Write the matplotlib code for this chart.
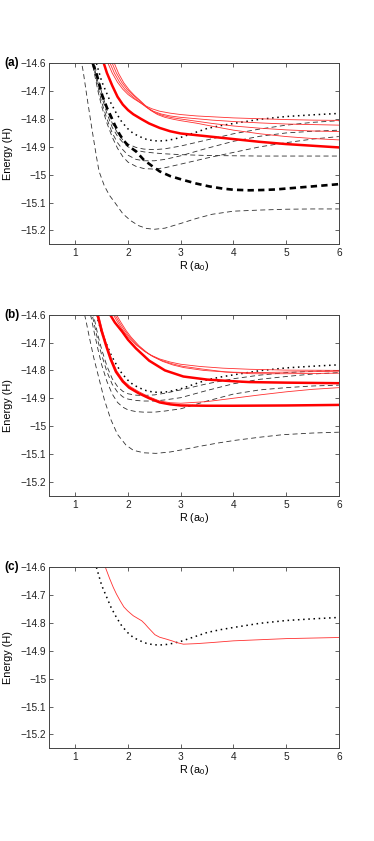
import matplotlib
matplotlib.use("Agg")
import matplotlib.pyplot as plt

plt.rcParams["font.family"] = ["Liberation Sans", "DejaVu Sans"]
plt.rcParams["mathtext.fontset"] = "custom"
plt.rcParams["mathtext.rm"] = "Liberation Sans"

# reference curve (dotted), same in all three panels
R_DOT = [1.40, 1.50, 1.59, 1.68, 1.78, 1.88, 1.99, 2.10, 2.23, 2.35, 2.48, 2.60, 2.73, 2.85, 3.00,
         3.25, 3.50, 3.75, 4.00, 4.50, 5.00, 5.50, 6.00]
E_DOT = [-14.600, -14.665, -14.705, -14.745, -14.780, -14.810, -14.834, -14.852, -14.864, -14.873,
         -14.878, -14.879, -14.877, -14.873, -14.866, -14.850, -14.834, -14.824, -14.816, -14.801,
         -14.791, -14.785, -14.780]

# ---- panel (a) ----
R_A_LOW = [1.10, 1.15, 1.22, 1.31, 1.40, 1.45, 1.55, 1.65, 1.75, 1.90, 2.05, 2.20, 2.35, 2.50,
           2.70, 3.00, 3.30, 3.60, 4.00, 4.50, 5.00, 5.50, 6.00]
E_A_LOW = [-14.58, -14.63, -14.72, -14.83, -14.935, -14.988, -15.04, -15.075, -15.10, -15.14,
           -15.165, -15.183, -15.193, -15.196, -15.192, -15.175, -15.157, -15.142, -15.131,
           -15.127, -15.124, -15.123, -15.123]

R_A_THICK = [1.33, 1.41, 1.51, 1.60, 1.67, 1.75, 1.84, 1.92, 2.00, 2.16, 2.30, 2.45, 2.60, 2.80,
             3.03, 3.30, 3.54, 3.80, 4.00, 4.30, 4.55, 4.80, 5.05, 5.50, 6.00]
E_A_THICK = [-14.600, -14.643, -14.715, -14.760, -14.788, -14.822, -14.855, -14.878, -14.895,
             -14.918, -14.947, -14.968, -14.988, -15.005, -15.018, -15.032, -15.042, -15.050,
             -15.054, -15.056, -15.055, -15.053, -15.049, -15.042, -15.034]

R_A_DASH = [1.30, 1.36, 1.43, 1.50, 1.60, 1.70, 1.80, 1.90, 2.00, 2.15, 2.30, 2.50, 2.70, 3.00,
            3.50, 4.00, 4.50, 5.00, 5.50, 6.00]
E_A_DASH1 = [-14.55, -14.60, -14.655, -14.705, -14.765, -14.815, -14.85, -14.875, -14.89, -14.902,
             -14.908, -14.91, -14.907, -14.897, -14.875, -14.853, -14.836, -14.822, -14.812, -14.806]
E_A_DASH2 = [-14.56, -14.615, -14.67, -14.72, -14.78, -14.83, -14.862, -14.884, -14.90, -14.912,
             -14.918, -14.922, -14.925, -14.928, -14.931, -14.932, -14.933, -14.933, -14.933, -14.933]
E_A_DASH3 = [-14.57, -14.625, -14.685, -14.74, -14.80, -14.85, -14.885, -14.91, -14.93, -14.945,
             -14.95, -14.95, -14.945, -14.932, -14.905, -14.88, -14.862, -14.85, -14.844, -14.84]
E_A_DASH4 = [-14.58, -14.635, -14.70, -14.755, -14.815, -14.865, -14.905, -14.935, -14.955, -14.97,
             -14.978, -14.98, -14.975, -14.962, -14.94, -14.92, -14.90, -14.885, -14.872, -14.863]

R_A_RED = [1.54, 1.60, 1.70, 1.80, 1.90, 2.00, 2.10, 2.25, 2.40, 2.60, 2.80, 3.00, 3.50, 4.00,
           4.50, 5.00, 5.50, 6.00]
E_A_RED = [-14.600, -14.635, -14.680, -14.720, -14.748, -14.768, -14.783, -14.800, -14.816,
           -14.832, -14.844, -14.852, -14.862, -14.872, -14.882, -14.890, -14.896, -14.902]

R_A_THIN1 = [1.62, 1.70, 1.80, 1.90, 2.00, 2.10, 2.20, 2.30, 2.45, 2.60, 2.80, 3.00, 3.30, 3.60,
             4.00, 4.50, 5.00, 5.50, 6.00]
E_A_THIN1 = [-14.600, -14.635, -14.668, -14.693, -14.712, -14.726, -14.738, -14.750, -14.763,
             -14.772, -14.779, -14.784, -14.789, -14.792, -14.796, -14.799, -14.802, -14.804, -14.805]
R_A_THIN2 = [1.66, 1.74, 1.84, 1.94, 2.04, 2.14, 2.24, 2.34, 2.48, 2.63, 2.80, 3.00, 3.30, 3.60,
             4.00, 4.50, 5.00, 5.50, 6.00]
E_A_THIN2 = [-14.600, -14.635, -14.668, -14.693, -14.712, -14.728, -14.742, -14.757, -14.772,
             -14.782, -14.789, -14.794, -14.799, -14.804, -14.809, -14.814, -14.818, -14.820, -14.822]
R_A_THIN3 = [1.70, 1.78, 1.88, 1.98, 2.08, 2.18, 2.28, 2.38, 2.52, 2.67, 2.83, 3.00, 3.30, 3.60,
             4.00, 4.50, 5.00, 5.50, 6.00]
E_A_THIN3 = [-14.600, -14.635, -14.668, -14.693, -14.712, -14.728, -14.745, -14.762, -14.778,
             -14.788, -14.795, -14.800, -14.808, -14.816, -14.825, -14.833, -14.839, -14.843, -14.845]
R_A_THIN4 = [1.74, 1.82, 1.92, 2.02, 2.12, 2.22, 2.32, 2.42, 2.56, 2.70, 2.86, 3.00, 3.30, 3.60,
             4.00, 4.50, 5.00, 5.50, 6.00]
E_A_THIN4 = [-14.600, -14.636, -14.670, -14.695, -14.715, -14.732, -14.750, -14.768, -14.784,
             -14.794, -14.801, -14.806, -14.815, -14.826, -14.840, -14.853, -14.863, -14.870, -14.875]

# ---- panel (b) ----
R_B_LOW = [1.14, 1.20, 1.27, 1.35, 1.45, 1.55, 1.67, 1.80, 1.96, 2.10, 2.30, 2.53, 2.80, 3.00,
           3.35, 3.70, 4.04, 4.50, 4.93, 5.50, 6.00]
E_B_LOW = [-14.57, -14.62, -14.685, -14.755, -14.83, -14.905, -14.975, -15.03, -15.068, -15.087,
           -15.096, -15.098, -15.093, -15.086, -15.073, -15.061, -15.051, -15.04, -15.031, -15.025,
           -15.022]

R_B_DASH = [1.25, 1.30, 1.36, 1.43, 1.50, 1.60, 1.70, 1.80, 1.90, 2.00, 2.15, 2.30, 2.50, 2.70,
            3.00, 3.50, 4.00, 4.50, 5.00, 5.50, 6.00]
E_B_DASH1 = [-14.53, -14.565, -14.615, -14.675, -14.725, -14.785, -14.83, -14.858, -14.875, -14.884,
             -14.889, -14.89, -14.888, -14.882, -14.87, -14.848, -14.83, -14.817, -14.808, -14.803,
             -14.80]
E_B_DASH2 = [-14.55, -14.585, -14.635, -14.695, -14.745, -14.805, -14.85, -14.878, -14.895, -14.903,
             -14.908, -14.91, -14.91, -14.906, -14.898, -14.872, -14.848, -14.832, -14.822, -14.813,
             -14.808]
E_B_DASH3 = [-14.57, -14.61, -14.665, -14.725, -14.78, -14.84, -14.885, -14.915, -14.932, -14.942,
             -14.948, -14.95, -14.95, -14.946, -14.938, -14.91, -14.885, -14.87, -14.862, -14.856,
             -14.853]

R_B_RED1 = [1.42, 1.50, 1.58, 1.67, 1.77, 1.90, 2.02, 2.20, 2.40, 2.60, 2.80, 3.00, 3.50, 4.00,
            5.00, 6.00]
E_B_RED1 = [-14.600, -14.660, -14.709, -14.760, -14.805, -14.840, -14.862, -14.882, -14.900,
            -14.915, -14.922, -14.926, -14.927, -14.927, -14.926, -14.924]
R_B_RED2 = [1.66, 1.75, 1.89, 2.00, 2.15, 2.40, 2.70, 3.05, 3.50, 4.00, 4.30, 5.00, 6.00]
E_B_RED2 = [-14.600, -14.628, -14.661, -14.690, -14.721, -14.765, -14.800, -14.822, -14.833,
            -14.839, -14.842, -14.844, -14.846]

R_B_THIN_LOW = [1.44, 1.52, 1.60, 1.69, 1.79, 1.92, 2.04, 2.20, 2.40, 2.60, 2.80, 3.00, 3.50,
                4.00, 4.50, 5.00, 5.50, 6.00]
E_B_THIN_LOW = [-14.600, -14.660, -14.710, -14.760, -14.803, -14.838, -14.858, -14.876, -14.895,
                -14.910, -14.916, -14.918, -14.912, -14.900, -14.888, -14.877, -14.868, -14.862]

R_B_THIN1 = [1.72, 1.80, 1.90, 2.00, 2.15, 2.30, 2.42, 2.60, 2.80, 3.00, 3.37, 3.80, 4.31, 5.00, 6.00]
E_B_THIN1 = [-14.600, -14.626, -14.655, -14.679, -14.708, -14.730, -14.744, -14.759, -14.770,
             -14.778, -14.786, -14.792, -14.796, -14.799, -14.800]
R_B_THIN2 = [1.75, 1.83, 1.93, 2.03, 2.18, 2.33, 2.45, 2.63, 2.83, 3.03, 3.40, 3.83, 4.34, 5.03, 6.00]
E_B_THIN2 = [-14.600, -14.626, -14.655, -14.680, -14.710, -14.733, -14.748, -14.764, -14.776,
             -14.785, -14.795, -14.805, -14.812, -14.812, -14.810]
R_B_THIN3 = [1.78, 1.86, 1.96, 2.06, 2.21, 2.36, 2.48, 2.66, 2.86, 3.06, 3.43, 3.86, 4.37, 5.06, 6.00]
E_B_THIN3 = [-14.600, -14.626, -14.656, -14.681, -14.712, -14.736, -14.751, -14.768, -14.781,
             -14.790, -14.800, -14.806, -14.808, -14.806, -14.803]

# ---- panel (c) ----
R_C_RED = [1.57, 1.65, 1.72, 1.78, 1.85, 1.92, 1.99, 2.05, 2.10, 2.18, 2.26, 2.32, 2.38, 2.45,
           2.51, 2.60, 2.73, 2.85, 2.92, 3.05, 3.30, 3.60, 4.00, 4.50, 5.00, 5.50, 6.00]
E_C_RED = [-14.600, -14.640, -14.672, -14.696, -14.720, -14.742, -14.756, -14.766, -14.774,
           -14.783, -14.792, -14.803, -14.816, -14.830, -14.842, -14.851, -14.858, -14.865,
           -14.870, -14.876, -14.874, -14.870, -14.864, -14.860, -14.856, -14.854, -14.852]

YTICKS = [-15.2, -15.1, -15.0, -14.9, -14.8, -14.7, -14.6]
YTICKLABELS = ["\u221215.2", "\u221215.1", "\u221215", "\u221214.9", "\u221214.8", "\u221214.7", "\u221214.6"]
XTICKS = [1, 2, 3, 4, 5, 6]


def thin_dash(ax, r, e):
    ax.plot(r, e, color="#303030", lw=0.6, dashes=(6, 4))


def thick_dash(ax, r, e):
    ax.plot(r, e, color="k", lw=1.9, dashes=(2.4, 1.6))


def dotted(ax, r, e):
    ax.plot(r, e, color="k", lw=1.1, dashes=(1, 2.4))


def red(ax, r, e, thick=False):
    if thick:
        ax.plot(r, e, color="#ff0000", lw=1.8)
    else:
        ax.plot(r, e, color="#ff3030", lw=0.6)


def style_axes(ax, label):
    ax.set_xlim(0.5, 6)
    ax.set_ylim(-15.25, -14.6)
    ax.set_xticks(XTICKS)
    ax.set_yticks(YTICKS)
    ax.set_yticklabels(YTICKLABELS)
    ax.tick_params(direction="in", top=True, right=True, length=3, width=0.5,
                   labelsize=7.3, colors="#222222")
    ax.tick_params(axis="y", pad=2)
    ax.tick_params(axis="x", pad=3)
    for s in ax.spines.values():
        s.set_linewidth(0.7)
        s.set_color("#444444")
    ax.set_ylabel("Energy (H)", fontsize=7.8)
    ax.set_xlabel("R (a$_\\mathrm{0}$)", fontsize=7.8)
    ax.yaxis.set_label_coords(-0.125, 0.5)
    ax.xaxis.set_label_coords(0.5, -0.082)
    ax.text(-0.155, 1.0, label, transform=ax.transAxes, ha="left", va="center",
            fontsize=8.5, fontweight="bold")


def main():
    fig = plt.figure(figsize=(3.74, 8.41), dpi=100)
    ax_a = fig.add_axes([0.131, 0.7095, 0.775, 0.2152])
    ax_b = fig.add_axes([0.131, 0.4106, 0.775, 0.2152])
    ax_c = fig.add_axes([0.131, 0.1102, 0.775, 0.2152])

    # (a)
    thin_dash(ax_a, R_A_LOW, E_A_LOW)
    for e in (E_A_DASH1, E_A_DASH2, E_A_DASH3, E_A_DASH4):
        thin_dash(ax_a, R_A_DASH, e)
    thick_dash(ax_a, R_A_THICK, E_A_THICK)
    dotted(ax_a, R_DOT, E_DOT)
    red(ax_a, R_A_THIN1, E_A_THIN1)
    red(ax_a, R_A_THIN2, E_A_THIN2)
    red(ax_a, R_A_THIN3, E_A_THIN3)
    red(ax_a, R_A_THIN4, E_A_THIN4)
    red(ax_a, R_A_RED, E_A_RED, thick=True)
    style_axes(ax_a, "(a)")

    # (b)
    thin_dash(ax_b, R_B_LOW, E_B_LOW)
    for e in (E_B_DASH1, E_B_DASH2, E_B_DASH3):
        thin_dash(ax_b, R_B_DASH, e)
    dotted(ax_b, R_DOT, E_DOT)
    red(ax_b, R_B_THIN_LOW, E_B_THIN_LOW)
    red(ax_b, R_B_THIN1, E_B_THIN1)
    red(ax_b, R_B_THIN2, E_B_THIN2)
    red(ax_b, R_B_THIN3, E_B_THIN3)
    red(ax_b, R_B_RED1, E_B_RED1, thick=True)
    red(ax_b, R_B_RED2, E_B_RED2, thick=True)
    style_axes(ax_b, "(b)")

    # (c)
    dotted(ax_c, R_DOT, E_DOT)
    red(ax_c, R_C_RED, E_C_RED)
    style_axes(ax_c, "(c)")

    fig.savefig("out.png", dpi=100)


if __name__ == "__main__":
    main()
